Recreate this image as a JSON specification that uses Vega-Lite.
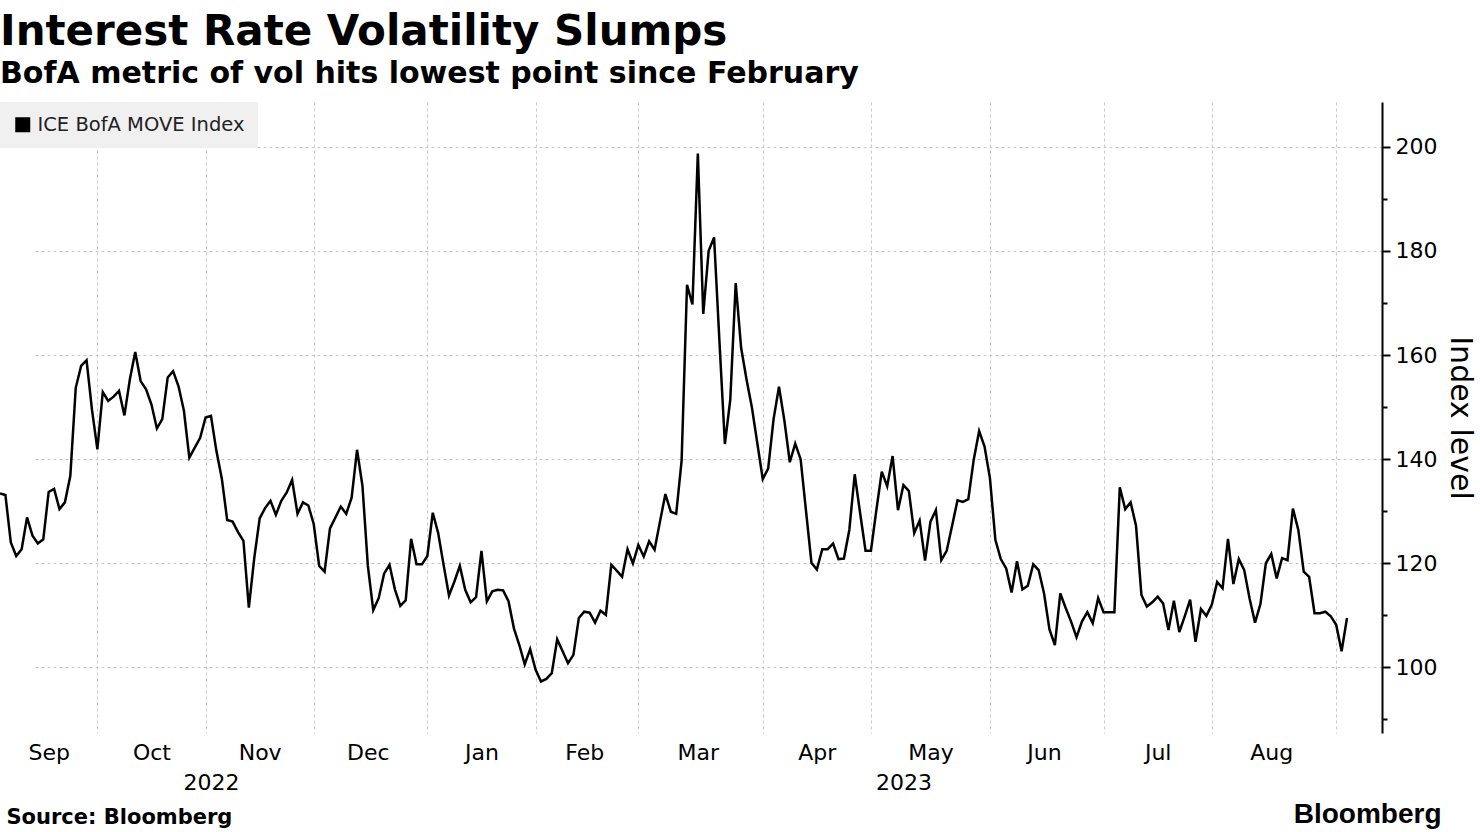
{
  "$schema": "https://vega.github.io/schema/vega-lite/v6.json",
  "width": 1382,
  "height": 631,
  "autosize": {"type": "none"},
  "padding": {"left": 0, "top": 102, "right": 98, "bottom": 99},
  "background": "white",
  "title": {
    "text": "Interest Rate Volatility Slumps",
    "subtitle": "BofA metric of vol hits lowest point since February",
    "anchor": "start",
    "frame": "group",
    "font": "DejaVu Sans",
    "fontSize": 42,
    "fontWeight": "bold",
    "color": "#000000",
    "subtitleFont": "DejaVu Sans",
    "subtitleFontSize": 30,
    "subtitleFontWeight": "bold",
    "subtitleColor": "#000000",
    "subtitlePadding": 5,
    "offset": 12
  },
  "config": {
    "view": {"stroke": null},
    "axis": {"labelFont": "DejaVu Sans", "labelFontSize": 22, "labelColor": "#000000", "titleFont": "DejaVu Sans", "titleColor": "#000000"}
  },
  "data": {
    "values": [
      {"date": "2022-09-07", "value": 133.4}, {"date": "2022-09-08", "value": 133.1}, {"date": "2022-09-09", "value": 124.0},
      {"date": "2022-09-12", "value": 121.4}, {"date": "2022-09-13", "value": 122.7}, {"date": "2022-09-14", "value": 128.8},
      {"date": "2022-09-15", "value": 125.3}, {"date": "2022-09-16", "value": 123.8}, {"date": "2022-09-19", "value": 124.6},
      {"date": "2022-09-20", "value": 133.7}, {"date": "2022-09-21", "value": 134.3}, {"date": "2022-09-22", "value": 130.4},
      {"date": "2022-09-23", "value": 131.7}, {"date": "2022-09-26", "value": 136.8}, {"date": "2022-09-27", "value": 153.7},
      {"date": "2022-09-28", "value": 157.9}, {"date": "2022-09-29", "value": 159.0}, {"date": "2022-09-30", "value": 149.5},
      {"date": "2022-10-03", "value": 141.9}, {"date": "2022-10-04", "value": 152.9}, {"date": "2022-10-05", "value": 151.2},
      {"date": "2022-10-06", "value": 152.0}, {"date": "2022-10-07", "value": 153.1}, {"date": "2022-10-11", "value": 148.4},
      {"date": "2022-10-12", "value": 155.3}, {"date": "2022-10-13", "value": 160.6}, {"date": "2022-10-14", "value": 155.0},
      {"date": "2022-10-17", "value": 153.4}, {"date": "2022-10-18", "value": 150.5}, {"date": "2022-10-19", "value": 145.9},
      {"date": "2022-10-20", "value": 147.7}, {"date": "2022-10-21", "value": 155.7}, {"date": "2022-10-24", "value": 156.9},
      {"date": "2022-10-25", "value": 154.0}, {"date": "2022-10-26", "value": 149.3}, {"date": "2022-10-27", "value": 140.3},
      {"date": "2022-10-28", "value": 142.2}, {"date": "2022-10-31", "value": 144.1},
      {"date": "2022-11-01", "value": 148.0}, {"date": "2022-11-02", "value": 148.3}, {"date": "2022-11-03", "value": 141.6},
      {"date": "2022-11-04", "value": 136.3}, {"date": "2022-11-07", "value": 128.3}, {"date": "2022-11-08", "value": 128.0},
      {"date": "2022-11-09", "value": 126.0}, {"date": "2022-11-10", "value": 124.3}, {"date": "2022-11-14", "value": 111.5},
      {"date": "2022-11-15", "value": 121.0}, {"date": "2022-11-16", "value": 128.6}, {"date": "2022-11-17", "value": 130.6},
      {"date": "2022-11-18", "value": 132.0}, {"date": "2022-11-21", "value": 129.3}, {"date": "2022-11-22", "value": 132.0},
      {"date": "2022-11-23", "value": 133.6}, {"date": "2022-11-25", "value": 136.0}, {"date": "2022-11-28", "value": 129.5},
      {"date": "2022-11-29", "value": 131.7}, {"date": "2022-11-30", "value": 131.1},
      {"date": "2022-12-01", "value": 127.5}, {"date": "2022-12-02", "value": 119.5}, {"date": "2022-12-05", "value": 118.4},
      {"date": "2022-12-06", "value": 126.7}, {"date": "2022-12-07", "value": 128.8}, {"date": "2022-12-08", "value": 130.9},
      {"date": "2022-12-09", "value": 129.5}, {"date": "2022-12-12", "value": 132.6}, {"date": "2022-12-13", "value": 141.8},
      {"date": "2022-12-14", "value": 134.9}, {"date": "2022-12-15", "value": 119.5}, {"date": "2022-12-16", "value": 111.0},
      {"date": "2022-12-19", "value": 113.3}, {"date": "2022-12-20", "value": 118.0}, {"date": "2022-12-21", "value": 119.7},
      {"date": "2022-12-22", "value": 115.0}, {"date": "2022-12-23", "value": 111.8}, {"date": "2022-12-27", "value": 112.9},
      {"date": "2022-12-28", "value": 124.7}, {"date": "2022-12-29", "value": 119.8}, {"date": "2022-12-30", "value": 119.8},
      {"date": "2023-01-03", "value": 121.4}, {"date": "2023-01-04", "value": 129.7}, {"date": "2023-01-05", "value": 125.8},
      {"date": "2023-01-06", "value": 119.7}, {"date": "2023-01-09", "value": 113.8}, {"date": "2023-01-10", "value": 116.5},
      {"date": "2023-01-11", "value": 119.5}, {"date": "2023-01-12", "value": 114.9}, {"date": "2023-01-13", "value": 112.5},
      {"date": "2023-01-17", "value": 113.5}, {"date": "2023-01-18", "value": 122.4}, {"date": "2023-01-19", "value": 112.7},
      {"date": "2023-01-20", "value": 114.6}, {"date": "2023-01-23", "value": 114.9}, {"date": "2023-01-24", "value": 114.8},
      {"date": "2023-01-25", "value": 112.7}, {"date": "2023-01-26", "value": 107.5}, {"date": "2023-01-27", "value": 104.3},
      {"date": "2023-01-30", "value": 100.6}, {"date": "2023-01-31", "value": 103.5},
      {"date": "2023-02-01", "value": 99.6}, {"date": "2023-02-02", "value": 97.3}, {"date": "2023-02-03", "value": 97.8},
      {"date": "2023-02-06", "value": 98.9}, {"date": "2023-02-07", "value": 105.4}, {"date": "2023-02-08", "value": 103.1},
      {"date": "2023-02-09", "value": 100.8}, {"date": "2023-02-10", "value": 102.4}, {"date": "2023-02-13", "value": 109.5},
      {"date": "2023-02-14", "value": 110.7}, {"date": "2023-02-15", "value": 110.5}, {"date": "2023-02-16", "value": 108.6},
      {"date": "2023-02-17", "value": 110.9}, {"date": "2023-02-21", "value": 110.1}, {"date": "2023-02-22", "value": 119.7},
      {"date": "2023-02-23", "value": 118.6}, {"date": "2023-02-24", "value": 117.4}, {"date": "2023-02-27", "value": 122.7},
      {"date": "2023-02-28", "value": 120.0},
      {"date": "2023-03-01", "value": 123.5}, {"date": "2023-03-02", "value": 121.3}, {"date": "2023-03-03", "value": 124.2},
      {"date": "2023-03-06", "value": 122.6}, {"date": "2023-03-07", "value": 128.0}, {"date": "2023-03-08", "value": 133.3},
      {"date": "2023-03-09", "value": 129.9}, {"date": "2023-03-10", "value": 129.5}, {"date": "2023-03-13", "value": 139.7},
      {"date": "2023-03-14", "value": 173.5}, {"date": "2023-03-15", "value": 169.7}, {"date": "2023-03-16", "value": 198.7},
      {"date": "2023-03-17", "value": 167.9}, {"date": "2023-03-20", "value": 180.0}, {"date": "2023-03-21", "value": 182.6},
      {"date": "2023-03-22", "value": 162.5}, {"date": "2023-03-23", "value": 142.9}, {"date": "2023-03-24", "value": 151.5},
      {"date": "2023-03-27", "value": 173.8}, {"date": "2023-03-28", "value": 161.4}, {"date": "2023-03-29", "value": 155.3},
      {"date": "2023-03-30", "value": 149.9}, {"date": "2023-03-31", "value": 143.0},
      {"date": "2023-04-03", "value": 136.2}, {"date": "2023-04-04", "value": 138.2}, {"date": "2023-04-05", "value": 147.7},
      {"date": "2023-04-06", "value": 153.9}, {"date": "2023-04-07", "value": 147.4}, {"date": "2023-04-10", "value": 139.4},
      {"date": "2023-04-11", "value": 143.0}, {"date": "2023-04-12", "value": 140.0}, {"date": "2023-04-13", "value": 130.0},
      {"date": "2023-04-14", "value": 120.1}, {"date": "2023-04-17", "value": 118.8}, {"date": "2023-04-18", "value": 122.7},
      {"date": "2023-04-19", "value": 122.7}, {"date": "2023-04-20", "value": 123.8}, {"date": "2023-04-21", "value": 120.8},
      {"date": "2023-04-24", "value": 120.9}, {"date": "2023-04-25", "value": 126.4}, {"date": "2023-04-26", "value": 137.1},
      {"date": "2023-04-27", "value": 129.6}, {"date": "2023-04-28", "value": 122.4},
      {"date": "2023-05-01", "value": 122.4}, {"date": "2023-05-02", "value": 130.2}, {"date": "2023-05-03", "value": 137.6},
      {"date": "2023-05-04", "value": 134.8}, {"date": "2023-05-05", "value": 140.6}, {"date": "2023-05-08", "value": 130.2},
      {"date": "2023-05-09", "value": 135.0}, {"date": "2023-05-10", "value": 133.9}, {"date": "2023-05-11", "value": 125.8},
      {"date": "2023-05-12", "value": 128.2}, {"date": "2023-05-15", "value": 120.5}, {"date": "2023-05-16", "value": 128.0},
      {"date": "2023-05-17", "value": 130.2}, {"date": "2023-05-18", "value": 120.6}, {"date": "2023-05-19", "value": 122.4},
      {"date": "2023-05-22", "value": 127.2}, {"date": "2023-05-23", "value": 132.1}, {"date": "2023-05-24", "value": 131.8},
      {"date": "2023-05-25", "value": 132.3}, {"date": "2023-05-26", "value": 139.9}, {"date": "2023-05-30", "value": 145.4},
      {"date": "2023-05-31", "value": 142.4},
      {"date": "2023-06-01", "value": 136.3}, {"date": "2023-06-02", "value": 124.5}, {"date": "2023-06-05", "value": 120.8},
      {"date": "2023-06-06", "value": 119.0}, {"date": "2023-06-07", "value": 114.4}, {"date": "2023-06-08", "value": 120.4},
      {"date": "2023-06-09", "value": 115.0}, {"date": "2023-06-12", "value": 115.7}, {"date": "2023-06-13", "value": 119.8},
      {"date": "2023-06-14", "value": 118.7}, {"date": "2023-06-15", "value": 114.2}, {"date": "2023-06-16", "value": 107.3},
      {"date": "2023-06-20", "value": 104.3}, {"date": "2023-06-21", "value": 114.2}, {"date": "2023-06-22", "value": 111.4},
      {"date": "2023-06-23", "value": 108.8}, {"date": "2023-06-26", "value": 105.8}, {"date": "2023-06-27", "value": 108.8},
      {"date": "2023-06-28", "value": 110.6}, {"date": "2023-06-29", "value": 108.5}, {"date": "2023-06-30", "value": 113.3},
      {"date": "2023-07-03", "value": 110.6}, {"date": "2023-07-05", "value": 110.6}, {"date": "2023-07-06", "value": 110.6},
      {"date": "2023-07-07", "value": 134.6}, {"date": "2023-07-10", "value": 130.4}, {"date": "2023-07-11", "value": 131.7},
      {"date": "2023-07-12", "value": 127.2}, {"date": "2023-07-13", "value": 113.9}, {"date": "2023-07-14", "value": 111.7},
      {"date": "2023-07-17", "value": 112.5}, {"date": "2023-07-18", "value": 113.6}, {"date": "2023-07-19", "value": 112.3},
      {"date": "2023-07-20", "value": 107.2}, {"date": "2023-07-21", "value": 112.8}, {"date": "2023-07-24", "value": 106.8},
      {"date": "2023-07-25", "value": 109.8}, {"date": "2023-07-26", "value": 113.0}, {"date": "2023-07-27", "value": 104.9},
      {"date": "2023-07-28", "value": 111.2}, {"date": "2023-07-31", "value": 109.9},
      {"date": "2023-08-01", "value": 112.0}, {"date": "2023-08-02", "value": 116.4}, {"date": "2023-08-03", "value": 115.2},
      {"date": "2023-08-04", "value": 124.7}, {"date": "2023-08-07", "value": 116.0}, {"date": "2023-08-08", "value": 120.8},
      {"date": "2023-08-09", "value": 118.7}, {"date": "2023-08-10", "value": 113.2}, {"date": "2023-08-11", "value": 108.6},
      {"date": "2023-08-14", "value": 112.2}, {"date": "2023-08-15", "value": 120.0}, {"date": "2023-08-16", "value": 121.8},
      {"date": "2023-08-17", "value": 117.1}, {"date": "2023-08-18", "value": 121.0}, {"date": "2023-08-21", "value": 120.6},
      {"date": "2023-08-22", "value": 130.5}, {"date": "2023-08-23", "value": 126.4}, {"date": "2023-08-24", "value": 118.4},
      {"date": "2023-08-25", "value": 117.4}, {"date": "2023-08-28", "value": 110.4}, {"date": "2023-08-29", "value": 110.4},
      {"date": "2023-08-30", "value": 110.7}, {"date": "2023-08-31", "value": 109.8},
      {"date": "2023-09-01", "value": 108.2}, {"date": "2023-09-05", "value": 103.1}, {"date": "2023-09-06", "value": 109.5}
    ]
  },
  "resolve": {"axis": {"x": "independent"}},
  "layer": [
    {
      "mark": {"type": "line", "strokeWidth": 2.5, "interpolate": "linear"},
      "encoding": {
        "x": {
          "field": "date",
          "type": "ordinal",
          "scale": {"type": "point", "range": [0, 1347], "padding": 0},
          "axis": {
            "orient": "bottom",
            "values": ["2022-10-03", "2022-11-01", "2022-12-01", "2023-01-03", "2023-02-01", "2023-03-01", "2023-04-03", "2023-05-01", "2023-06-01", "2023-07-03", "2023-08-01", "2023-09-01"],
            "grid": true,
            "gridDash": [3, 3],
            "gridColor": "#c8c8c8",
            "gridWidth": 1,
            "labels": false,
            "ticks": false,
            "tickSize": 0,
            "domain": false,
            "title": null
          }
        },
        "y": {
          "field": "value",
          "type": "quantitative",
          "scale": {"domain": [87.4, 208.6], "nice": false, "zero": false},
          "axis": {
            "orient": "right",
            "values": [90, 100, 110, 120, 130, 140, 150, 160, 170, 180, 190, 200],
            "labelExpr": "datum.value % 20 == 0 ? datum.label : ''",
            "grid": true,
            "gridDash": [3, 3],
            "gridColor": "#c8c8c8",
            "gridOpacity": {"condition": {"test": "datum.value % 20 == 0", "value": 1}, "value": 0},
            "domain": true,
            "domainColor": "#000000",
            "domainWidth": 2,
            "ticks": true,
            "tickColor": "#000000",
            "tickWidth": 2,
            "tickSize": {"condition": {"test": "datum.value % 20 == 0", "value": 8}, "value": 5},
            "labelPadding": 5,
            "labelFontSize": 22,
            "labelOverlap": false,
            "labelBound": false,
            "title": "Index level",
            "titleFontSize": 30,
            "titleFontWeight": "normal",
            "titlePadding": 8
          }
        },
        "color": {
          "datum": "ICE BofA MOVE Index",
          "type": "nominal",
          "scale": {"range": ["#000000"]},
          "legend": {
            "orient": "top-left",
            "offset": 0,
            "title": null,
            "fillColor": "#f0f0f0",
            "padding": 13,
            "symbolType": "square",
            "symbolSize": 225,
            "symbolFillColor": "#000000",
            "symbolStrokeColor": "#000000",
            "symbolStrokeWidth": 0,
            "labelFont": "DejaVu Sans",
            "labelFontSize": 19.5,
            "labelColor": "#222222",
            "labelOffset": 5,
            "labelLimit": 400
          }
        }
      }
    },
    {
      "mark": {"type": "point", "opacity": 0},
      "encoding": {
        "x": {
          "field": "date",
          "type": "ordinal",
          "axis": {
            "orient": "bottom",
            "values": ["2022-09-20", "2022-10-18", "2022-11-16", "2022-12-15", "2023-01-18", "2023-02-14", "2023-03-16", "2023-04-17", "2023-05-16", "2023-06-15", "2023-07-18", "2023-08-16"],
            "labelExpr": "utcFormat(toDate(datum.value), '%b')",
            "grid": false,
            "ticks": false,
            "tickSize": 0,
            "domain": false,
            "labelAngle": 0,
            "labelPadding": 9,
            "labelFontSize": 22,
            "labelOverlap": false,
            "labelFlush": false,
            "labelBound": false,
            "title": "Source: Bloomberg",
            "titleFont": "DejaVu Sans",
            "titleFontSize": 21,
            "titleFontWeight": "bold",
            "titleAnchor": "start",
            "titleAlign": "left",
            "titleBaseline": "alphabetic",
            "titleX": 6,
            "titleY": 90
          }
        }
      }
    },
    {
      "mark": {"type": "point", "opacity": 0},
      "encoding": {
        "x": {
          "field": "date",
          "type": "ordinal",
          "axis": {
            "orient": "bottom",
            "values": ["2022-11-02", "2023-05-09"],
            "labelExpr": "substring(datum.value, 0, 4)",
            "grid": false,
            "ticks": false,
            "tickSize": 0,
            "domain": false,
            "labelAngle": 0,
            "labelPadding": 39,
            "labelFontSize": 22,
            "labelOverlap": false,
            "labelFlush": false,
            "labelBound": false,
            "title": "Bloomberg",
            "titleFont": "Liberation Sans",
            "titleFontSize": 28,
            "titleFontWeight": "bold",
            "titleAnchor": "end",
            "titleAlign": "right",
            "titleBaseline": "alphabetic",
            "titleX": 1441,
            "titleY": 89
          }
        }
      }
    }
  ]
}
